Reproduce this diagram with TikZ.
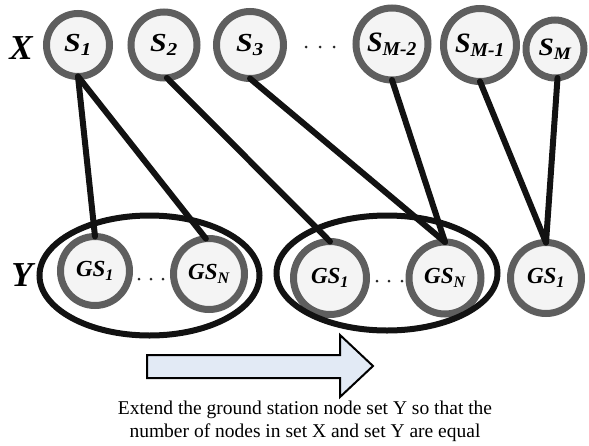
\documentclass[tikz,border=0pt]{standalone}
\usepackage{fontspec}
\setmainfont{Liberation Serif}
\usetikzlibrary{shapes.geometric,shadows}
\definecolor{ringgray}{HTML}{5E5E5E}
\definecolor{innerfill}{HTML}{F4F4F4}
\definecolor{arrowfill}{HTML}{E2EAF5}
\newcommand\widelab[2]{\scalebox{#1}[1]{#2}}
\begin{document}
\begin{tikzpicture}[x=1pt,y=-1pt,
  sat/.style={circle,draw=ringgray,line width=7pt,fill=innerfill,outer sep=0pt,inner sep=0pt,
    minimum size=#1, drop shadow={opacity=0.25,shadow xshift=1.5pt,shadow yshift=-1.5pt},
    font=\fontsize{26}{26}\selectfont\bfseries\itshape},
  gsfont/.style={font=\fontsize{23}{23}\selectfont\bfseries\itshape},
  link/.style={line width=6pt,line cap=round,black!93},
  setring/.style={ellipse,draw=black!93,line width=6pt,inner sep=0pt,outer sep=0pt},
  setlabel/.style={font=\fontsize{35}{35}\selectfont\bfseries\itshape},
  dotmark/.style={circle,fill=black!85,inner sep=0pt,minimum size=3pt}
]
\useasboundingbox (0,0) rectangle (589,445);

% labels
\node[setlabel] (xl) at (21,48) {X};
\node[setlabel] (yl) at (22,275) {Y};

% top row
\node[sat=63pt] (s1) at (78,45) {\widelab{1.15}{S\textsubscript{1}}};
\node[sat=66pt] (s2) at (164,45) {\widelab{1.15}{S\textsubscript{2}}};
\node[sat=67pt] (s3) at (250,45) {\widelab{1.15}{S\textsubscript{3}}};
\node[sat=72pt,font=\fontsize{28}{28}\selectfont\bfseries\itshape] (sm2) at (392,44) {S\textsubscript{M-2}};
\node[sat=73pt,font=\fontsize{28}{28}\selectfont\bfseries\itshape] (sm1) at (480,45) {S\textsubscript{M-1}};
\node[sat=58pt,font=\fontsize{25}{25}\selectfont\bfseries\itshape] (sm) at (555,49) {\widelab{1.1}{S\textsubscript{M}}};

% bottom row
\node[sat=69pt,gsfont] (ga1) at (95,271) {GS\textsubscript{1}};
\node[sat=71pt,gsfont] (gan) at (209,274) {GS\textsubscript{N}};
\node[sat=73pt,gsfont] (gb1) at (330,278) {GS\textsubscript{1}};
\node[sat=72pt,gsfont] (gbn) at (445,278) {GS\textsubscript{N}};
\node[sat=71pt,gsfont] (gc1) at (546,278) {GS\textsubscript{1}};

% dots
\node[dotmark] (t1) at (306,47) {};
\node[dotmark] (t2) at (320,47) {};
\node[dotmark] (t3) at (334,47) {};
\node[dotmark] (a1) at (139,279) {};
\node[dotmark] (a2) at (151,279) {};
\node[dotmark] (a3) at (163,279) {};
\node[dotmark] (b1) at (377,281) {};
\node[dotmark] (b2) at (389,281) {};
\node[dotmark] (b3) at (402,281) {};

% links
\draw[link] (s1.south) -- (ga1.north);
\draw[link] (s1.south) -- (gan.95);
\draw[link] (s2.275) -- (gb1.north);
\draw[link] (s3.south) -- (gbn.north);
\draw[link] (sm2.south) -- (gbn.north);
\draw[link] (sm1.south) -- (gc1.north);
\draw[link] (sm.275) -- (gc1.north);

% set ellipses
\node[setring,minimum width=220pt,minimum height=120pt] (setA) at (149.5,275.5) {};
\node[setring,minimum width=221pt,minimum height=115pt] (setB) at (387,273) {};

% arrow
\draw[line width=2pt,fill=arrowfill,line join=miter]
  (147,355) -- (340,355) -- (340,335) -- (373,366) -- (340,397) -- (340,378) -- (147,378) -- cycle;

% caption
\node[align=center,font=\fontsize{19.5}{23}\selectfont] (cap) at (305,421)
  {Extend the ground station node set Y so that the\\number of nodes in set X and set Y are equal};
\end{tikzpicture}
\end{document}
